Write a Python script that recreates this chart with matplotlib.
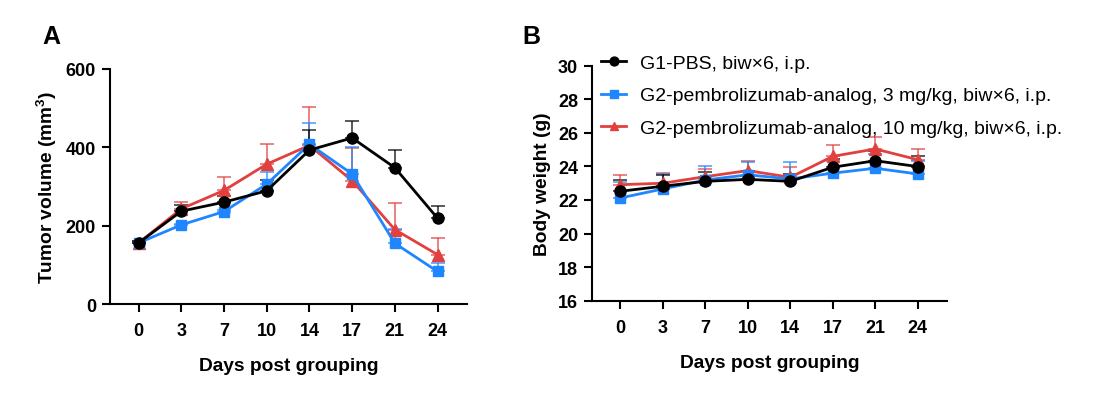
import numpy as np
import matplotlib
matplotlib.use('Agg')
import matplotlib.pyplot as plt

plt.rcParams['font.family'] = ['Liberation Sans', 'DejaVu Sans']
plt.rcParams['mathtext.fontset'] = 'custom'
plt.rcParams['mathtext.rm'] = 'Liberation Sans'
plt.rcParams['mathtext.bf'] = 'Liberation Sans:bold'

# days post grouping (categorical, equally spaced)
days = ['0', '3', '7', '10', '14', '17', '21', '24']

labels = ['G1-PBS, biw\u00d76, i.p.',
          'G2-pembrolizumab-analog, 3 mg/kg, biw\u00d76, i.p.',
          'G2-pembrolizumab-analog, 10 mg/kg, biw\u00d76, i.p.']

# tumor volume (mm3), mean and upper SEM
tv_g1 = [156, 237, 260, 289, 393, 424, 348, 219]
tv_g1_err = [4, 16, 17, 27, 50, 44, 45, 32]
tv_g2 = [156, 202, 236, 306, 408, 332, 155, 83]
tv_g2_err = [4, 3, 4, 30, 53, 70, 36, 22]
tv_g3 = [156, 243, 290, 357, 405, 315, 190, 126]
tv_g3_err = [4, 17, 35, 51, 97, 83, 67, 42]

# body weight (g), mean and upper SEM
bw_g1 = [22.52, 22.82, 23.11, 23.23, 23.11, 23.95, 24.34, 23.99]
bw_g1_err = [0.68, 0.68, 0.54, 0.5, 0.44, 0.49, 0.6, 0.65]
bw_g2 = [22.12, 22.66, 23.19, 23.5, 23.25, 23.6, 23.89, 23.55]
bw_g2_err = [0.93, 0.89, 0.85, 0.78, 0.99, 0.74, 0.85, 0.79]
bw_g3 = [22.91, 23.0, 23.39, 23.75, 23.35, 24.6, 25.04, 24.4]
bw_g3_err = [0.6, 0.6, 0.46, 0.59, 0.6, 0.7, 0.69, 0.64]

colors = ['#000000', '#1f86ff', '#e2403f']
markers = ['o', 's', '^']
msizes = [8, 7.5, 8]


def draw_panel(ax, means, errs, ylim, yticks, ylabel):
    x = np.arange(len(days))
    # draw red first, black on top
    for i in [2, 1, 0]:
        m = np.array(means[i])
        e = np.array(errs[i])
        ax.errorbar(x, m, yerr=[np.zeros_like(e), e], fmt='none',
                    ecolor=colors[i], alpha=0.7, elinewidth=1.3,
                    capsize=5, capthick=1.3, zorder=2)
        ax.plot(x, m, color=colors[i], marker=markers[i], markersize=msizes[i],
                lw=2, label=labels[i], zorder=5 - i)
    ax.set_xticks(x)
    ax.set_xticklabels(days)
    ax.set_xlim(-0.67, 7.69)
    ax.set_ylim(*ylim)
    ax.set_yticks(yticks)
    ax.spines['top'].set_visible(False)
    ax.spines['right'].set_visible(False)
    for s in ['left', 'bottom']:
        ax.spines[s].set_linewidth(1.5)
    ax.tick_params(width=1.5, length=6, labelsize=13, pad=4)
    ax.tick_params(axis='x', pad=7)
    for t in ax.get_xticklabels() + ax.get_yticklabels():
        t.set_fontweight('bold')
    ax.set_xlabel('Days post grouping', fontsize=13.8, fontweight='bold', labelpad=13)
    ax.set_ylabel(ylabel, fontsize=13.8, fontweight='bold', labelpad=5)


fig = plt.figure(figsize=(10.98, 4.14), dpi=100)
W, H = 1098, 414

axA = fig.add_axes([110 / W, 1 - 305 / H, 357 / W, 235 / H])
draw_panel(axA, [tv_g1, tv_g2, tv_g3], [tv_g1_err, tv_g2_err, tv_g3_err],
           (0, 600), [0, 200, 400, 600], r'Tumor volume (mm$^{\mathbf{3}}$)')

axB = fig.add_axes([592 / W, 1 - 301.7 / H, 355 / W, 235 / H])
draw_panel(axB, [bw_g1, bw_g2, bw_g3], [bw_g1_err, bw_g2_err, bw_g3_err],
           (16, 30), np.arange(16, 31, 2), 'Body weight (g)')

handles, labs = axB.get_legend_handles_labels()
order = [labs.index(l) for l in labels]
fig.legend([handles[k] for k in order], [labs[k] for k in order],
           loc='upper left', bbox_to_anchor=(601 / W, 1 - 55 / H),
           frameon=False, fontsize=14, handlelength=1.3, markerscale=0.8,
           labelspacing=0.78, handletextpad=0.7, borderaxespad=0,
           borderpad=0)

fig.text(42 / W, 1 - 37 / H, 'A', fontsize=18, fontweight='bold', va='center')
fig.text(522 / W, 1 - 37 / H, 'B', fontsize=18, fontweight='bold', va='center')

fig.savefig('out.png', dpi=100)
